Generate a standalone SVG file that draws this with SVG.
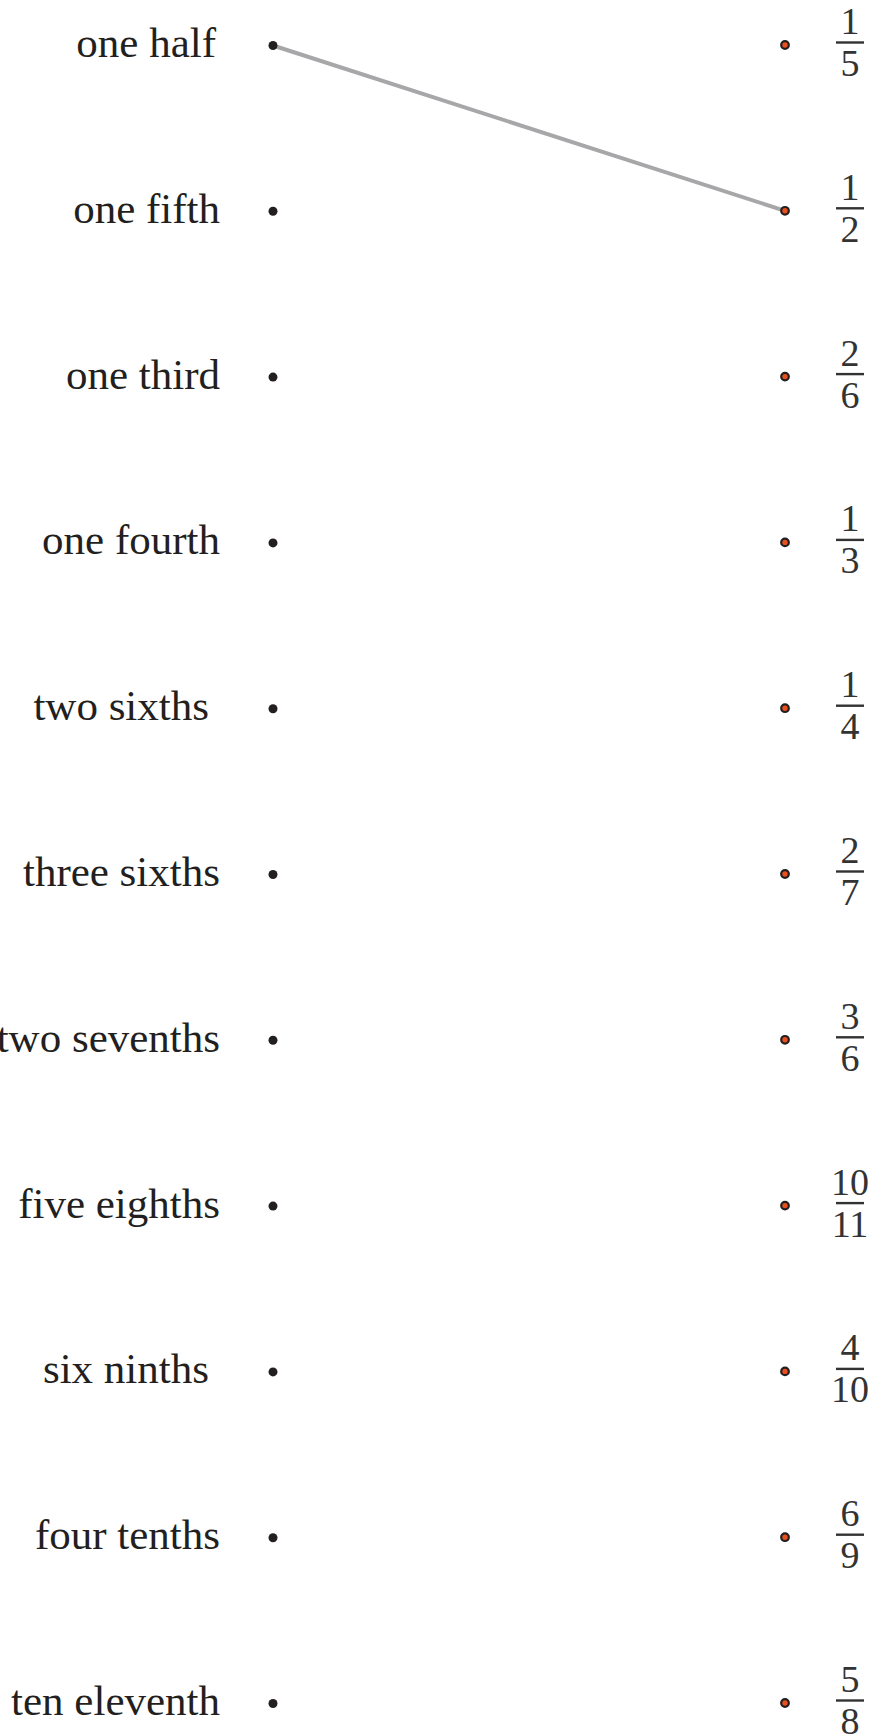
<svg xmlns="http://www.w3.org/2000/svg" width="874" height="1735" viewBox="0 0 874 1735">
<style>
.lbl{font-family:"Liberation Serif","Times New Roman",serif;font-size:43px;fill:#231f20;text-anchor:end}
.num{font-family:"Liberation Serif","Times New Roman",serif;font-size:38px;fill:#333333;text-anchor:middle}
.bar{stroke:#333333;stroke-width:2.4}
.ld{fill:#231f20}
.rd{fill:#e8501e;stroke:#231f20;stroke-width:2.2}
.conn{stroke:#a7a7aa;stroke-width:4;stroke-linecap:round;fill:none}
</style>
<rect width="874" height="1735" fill="#ffffff"/>
<g id="connectors">
<line class="conn" x1="273" y1="45.5" x2="785" y2="210.8"/>
</g>
<g id="left-1" transform="translate(0,45)"><text class="lbl" x="216" y="12">one half</text><circle class="ld" cx="273" cy="0.5" r="4.5"/></g>
<g id="left-2" transform="translate(0,210.8)"><text class="lbl" x="220" y="12">one fifth</text><circle class="ld" cx="273" cy="0.5" r="4.5"/></g>
<g id="left-3" transform="translate(0,376.6)"><text class="lbl" x="220" y="12">one third</text><circle class="ld" cx="273" cy="0.5" r="4.5"/></g>
<g id="left-4" transform="translate(0,542.4)"><text class="lbl" x="220" y="12">one fourth</text><circle class="ld" cx="273" cy="0.5" r="4.5"/></g>
<g id="left-5" transform="translate(0,708.2)"><text class="lbl" x="209" y="12">two sixths</text><circle class="ld" cx="273" cy="0.5" r="4.5"/></g>
<g id="left-6" transform="translate(0,874)"><text class="lbl" x="220" y="12">three sixths</text><circle class="ld" cx="273" cy="0.5" r="4.5"/></g>
<g id="left-7" transform="translate(0,1039.8)"><text class="lbl" x="220" y="12">two sevenths</text><circle class="ld" cx="273" cy="0.5" r="4.5"/></g>
<g id="left-8" transform="translate(0,1205.6)"><text class="lbl" x="220" y="12">five eighths</text><circle class="ld" cx="273" cy="0.5" r="4.5"/></g>
<g id="left-9" transform="translate(0,1371.4)"><text class="lbl" x="209" y="12">six ninths</text><circle class="ld" cx="273" cy="0.5" r="4.5"/></g>
<g id="left-10" transform="translate(0,1537.2)"><text class="lbl" x="220" y="12">four tenths</text><circle class="ld" cx="273" cy="0.5" r="4.5"/></g>
<g id="left-11" transform="translate(0,1703)"><text class="lbl" x="220" y="12">ten eleventh</text><circle class="ld" cx="273" cy="0.5" r="4.5"/></g>
<g id="right-1" transform="translate(0,45)"><circle class="rd" cx="785" cy="0" r="3.8"/><text class="num" x="850" y="-11">1</text><line class="bar" x1="836" y1="-2.5" x2="864" y2="-2.5"/><text class="num" x="850" y="31">5</text></g>
<g id="right-2" transform="translate(0,210.8)"><circle class="rd" cx="785" cy="0" r="3.8"/><text class="num" x="850" y="-11">1</text><line class="bar" x1="836" y1="-2.5" x2="864" y2="-2.5"/><text class="num" x="850" y="31">2</text></g>
<g id="right-3" transform="translate(0,376.6)"><circle class="rd" cx="785" cy="0" r="3.8"/><text class="num" x="850" y="-11">2</text><line class="bar" x1="836" y1="-2.5" x2="864" y2="-2.5"/><text class="num" x="850" y="31">6</text></g>
<g id="right-4" transform="translate(0,542.4)"><circle class="rd" cx="785" cy="0" r="3.8"/><text class="num" x="850" y="-11">1</text><line class="bar" x1="836" y1="-2.5" x2="864" y2="-2.5"/><text class="num" x="850" y="31">3</text></g>
<g id="right-5" transform="translate(0,708.2)"><circle class="rd" cx="785" cy="0" r="3.8"/><text class="num" x="850" y="-11">1</text><line class="bar" x1="836" y1="-2.5" x2="864" y2="-2.5"/><text class="num" x="850" y="31">4</text></g>
<g id="right-6" transform="translate(0,874)"><circle class="rd" cx="785" cy="0" r="3.8"/><text class="num" x="850" y="-11">2</text><line class="bar" x1="836" y1="-2.5" x2="864" y2="-2.5"/><text class="num" x="850" y="31">7</text></g>
<g id="right-7" transform="translate(0,1039.8)"><circle class="rd" cx="785" cy="0" r="3.8"/><text class="num" x="850" y="-11">3</text><line class="bar" x1="836" y1="-2.5" x2="864" y2="-2.5"/><text class="num" x="850" y="31">6</text></g>
<g id="right-8" transform="translate(0,1205.6)"><circle class="rd" cx="785" cy="0" r="3.8"/><text class="num" x="850" y="-11">10</text><line class="bar" x1="836" y1="-2.5" x2="864" y2="-2.5"/><text class="num" x="850" y="31">11</text></g>
<g id="right-9" transform="translate(0,1371.4)"><circle class="rd" cx="785" cy="0" r="3.8"/><text class="num" x="850" y="-11">4</text><line class="bar" x1="836" y1="-2.5" x2="864" y2="-2.5"/><text class="num" x="850" y="31">10</text></g>
<g id="right-10" transform="translate(0,1537.2)"><circle class="rd" cx="785" cy="0" r="3.8"/><text class="num" x="850" y="-11">6</text><line class="bar" x1="836" y1="-2.5" x2="864" y2="-2.5"/><text class="num" x="850" y="31">9</text></g>
<g id="right-11" transform="translate(0,1703)"><circle class="rd" cx="785" cy="0" r="3.8"/><text class="num" x="850" y="-11">5</text><line class="bar" x1="836" y1="-2.5" x2="864" y2="-2.5"/><text class="num" x="850" y="31">8</text></g>
</svg>
